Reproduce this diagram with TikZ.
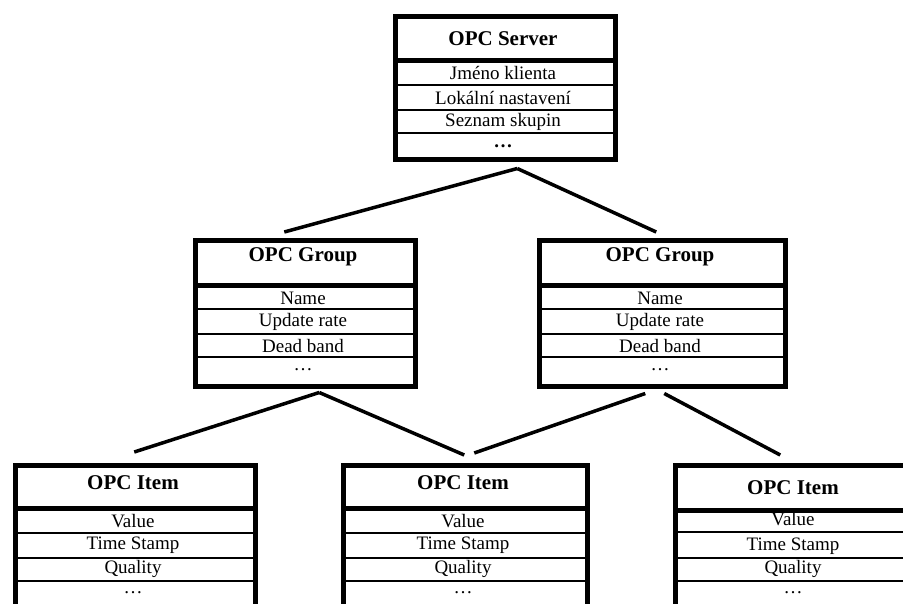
\documentclass[tikz,border=0pt]{standalone}
\usepackage{fontspec}
\setmainfont{Liberation Serif}
\begin{document}
\begin{tikzpicture}[x=1pt,y=-1pt,
  frame/.style={draw=black,line width=4.5pt,inner sep=0pt,anchor=north west},
  sepline/.style={line width=5pt},
  rowline/.style={line width=1.8pt},
  conn/.style={line width=3.5pt},
  head/.style={font=\fontsize{21}{24}\selectfont\bfseries,inner sep=0pt},
  cell/.style={font=\fontsize{19}{21}\selectfont,inner sep=0pt}]
\useasboundingbox (0,0) rectangle (903,603);
\clip (0,0) rectangle (903,603);

% ---- OPC Server ----
\node[frame,minimum width=220pt,minimum height=143pt] (srv) at (393,14) {};
\draw[sepline] (393,60) -- (613,60);
\draw[rowline] (393,85) -- (613,85);
\draw[rowline] (393,110) -- (613,110);
\draw[rowline] (393,133) -- (613,133);
\node[head] (srvh) at (503,39) {OPC Server};
\node[cell] (srv1) at (503,73) {Jméno klienta};
\node[cell] (srv2) at (503,98) {Lokální nastavení};
\node[cell] (srv3) at (503,122) {Seznam skupin};
\node[cell,font=\fontsize{19}{21}\selectfont\bfseries] (srv4) at (503,146) {…};

% ---- OPC Group left ----
\node[frame,minimum width=220pt,minimum height=146pt] (g1) at (193,238) {};
\draw[sepline] (193,285) -- (413,285);
\draw[rowline] (193,309) -- (413,309);
\draw[rowline] (193,334) -- (413,334);
\draw[rowline] (193,357) -- (413,357);
\node[head] (g1h) at (303,257) {OPC Group};
\node[cell] (g11) at (303,298) {Name};
\node[cell] (g12) at (303,322) {Update rate};
\node[cell] (g13) at (303,346) {Dead band};
\node[cell] (g14) at (303,370) {…};

% ---- OPC Group right ----
\node[frame,minimum width=246pt,minimum height=146pt] (g2) at (537,238) {};
\draw[sepline] (537,285) -- (783,285);
\draw[rowline] (537,309) -- (783,309);
\draw[rowline] (537,334) -- (783,334);
\draw[rowline] (537,357) -- (783,357);
\node[head] (g2h) at (660,257) {OPC Group};
\node[cell] (g21) at (660,298) {Name};
\node[cell] (g22) at (660,322) {Update rate};
\node[cell] (g23) at (660,346) {Dead band};
\node[cell] (g24) at (660,370) {…};

% ---- OPC Item 1 ----
\node[frame,minimum width=240pt,minimum height=160pt] (i1) at (13,463) {};
\draw[sepline] (13,508) -- (253,508);
\draw[rowline] (13,533) -- (253,533);
\draw[rowline] (13,558) -- (253,558);
\draw[rowline] (13,581) -- (253,581);
\node[head] (i1h) at (133,483) {OPC Item};
\node[cell] (i11) at (133,521) {Value};
\node[cell] (i12) at (133,545) {Time Stamp};
\node[cell] (i13) at (133,569) {Quality};
\node[cell] (i14) at (133,593) {…};

% ---- OPC Item 2 ----
\node[frame,minimum width=244pt,minimum height=160pt] (i2) at (341,463) {};
\draw[sepline] (341,508) -- (585,508);
\draw[rowline] (341,533) -- (585,533);
\draw[rowline] (341,558) -- (585,558);
\draw[rowline] (341,581) -- (585,581);
\node[head] (i2h) at (463,483) {OPC Item};
\node[cell] (i21) at (463,521) {Value};
\node[cell] (i22) at (463,545) {Time Stamp};
\node[cell] (i23) at (463,569) {Quality};
\node[cell] (i24) at (463,593) {…};

% ---- OPC Item 3 ----
\node[frame,minimum width=240pt,minimum height=160pt] (i3) at (673,463) {};
\draw[sepline] (673,510) -- (913,510);
\draw[rowline] (673,532) -- (913,532);
\draw[rowline] (673,558) -- (913,558);
\draw[rowline] (673,581) -- (913,581);
\node[head] (i3h) at (793,488) {OPC Item};
\node[cell] (i31) at (793,519) {Value};
\node[cell] (i32) at (793,546) {Time Stamp};
\node[cell] (i33) at (793,569) {Quality};
\node[cell] (i34) at (793,593) {…};

% ---- connectors ----
\draw[conn] ([xshift=12pt,yshift=-7pt]srv.south) -- ([xshift=-21pt,yshift=6pt]g1.north);
\draw[conn] ([xshift=12pt,yshift=-7pt]srv.south) -- ([xshift=-6pt,yshift=6pt]g2.north);
\draw[conn] ([xshift=14pt,yshift=-4pt]g1.south) -- ([xshift=-1pt,yshift=11pt]i1.north);
\draw[conn] ([xshift=14pt,yshift=-4pt]g1.south) -- ([xshift=-1pt,yshift=8pt]i2.north);
\draw[conn] ([xshift=-17pt,yshift=-5pt]g2.south) -- ([xshift=9pt,yshift=10pt]i2.north);
\draw[conn] ([xshift=2pt,yshift=-5pt]g2.south) -- ([xshift=-15pt,yshift=8pt]i3.north);
\end{tikzpicture}
\end{document}
